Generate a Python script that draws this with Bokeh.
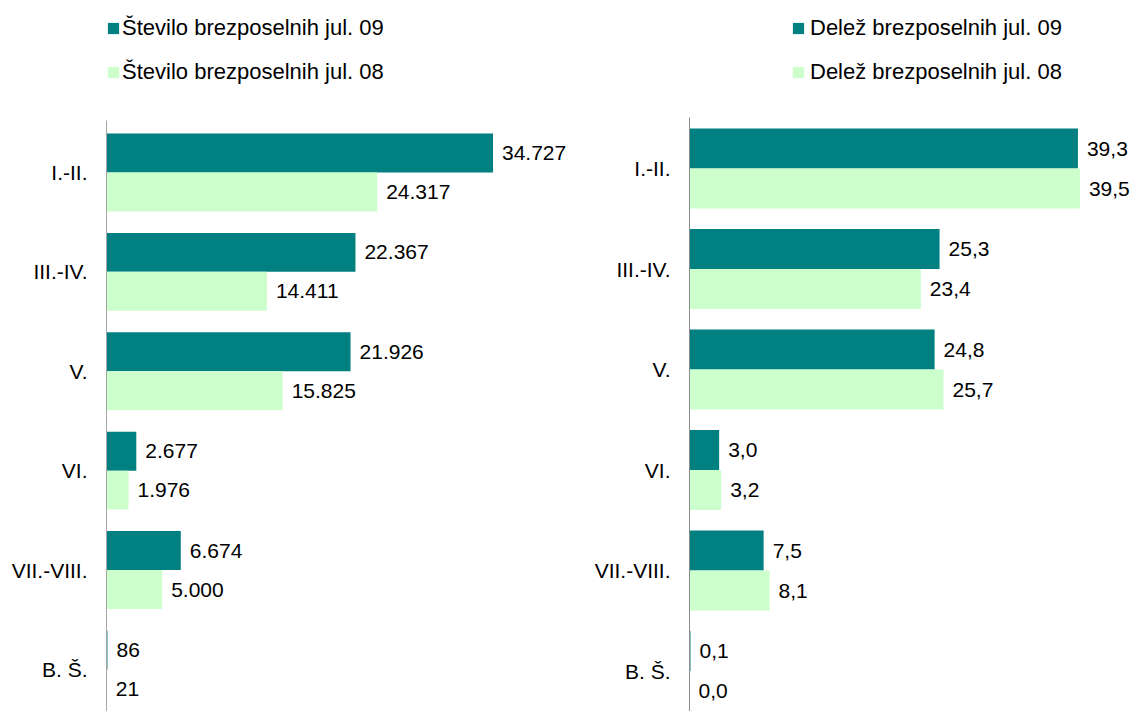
from bokeh.plotting import figure
from bokeh.models import (ColumnDataSource, Range1d, FixedTicker, LabelSet,
                          Legend, LegendItem)
from bokeh.core.properties import value
from bokeh.transform import dodge
from bokeh.layouts import row
from bokeh.embed import file_html
from bokeh.resources import INLINE

categories = ["I.-II.", "III.-IV.", "V.", "VI.", "VII.-VIII.", "B. Š."]
stevilo_jul09 = [34727, 22367, 21926, 2677, 6674, 86]
stevilo_jul08 = [24317, 14411, 15825, 1976, 5000, 21]
delez_jul09 = [39.3, 25.3, 24.8, 3.0, 7.5, 0.1]
delez_jul08 = [39.5, 23.4, 25.7, 3.2, 8.1, 0.0]

labels_left = ["Število brezposelnih jul. 09", "Število brezposelnih jul. 08"]
labels_right = ["Delež brezposelnih jul. 09", "Delež brezposelnih jul. 08"]

DARK = "#008080"
LIGHT = "#CCFFCC"
FONT = "Liberation Sans"
FS = "21px"
FS_LEG = "22px"


def fmt_int(v):
    return f"{v:,}".replace(",", ".")


def fmt_dec(v):
    return f"{v:.1f}".replace(".", ",")


def make_panel(v09, v08, fmt, labels, width, x_end, y_range, border_left,
               bar_h, axis_color, axis_top, legend_loc, leg_standoff):
    idx = list(range(len(categories)))
    src = ColumnDataSource(dict(
        idx=idx, v09=v09, v08=v08,
        t09=[fmt(v) for v in v09], t08=[fmt(v) for v in v08]))
    p = figure(width=width, height=711, output_backend="svg",
               toolbar_location=None, x_range=Range1d(0, x_end),
               y_range=y_range, min_border_left=border_left,
               min_border_top=0, min_border_right=0,
               min_border_bottom=0)
    off = bar_h / 2
    r1 = p.hbar(y=dodge("idx", -off), right="v09", left=0, height=bar_h,
                source=src, fill_color=DARK, line_color=None)
    r2 = p.hbar(y=dodge("idx", off), right="v08", left=0, height=bar_h,
                source=src, fill_color=LIGHT, line_color=None)
    for col, xcol, o in (("t09", "v09", -off), ("t08", "v08", off)):
        p.add_layout(LabelSet(x=xcol, y=dodge("idx", o), text=col, source=src,
                              x_offset=9, text_baseline="middle",
                              text_font=value(FONT), text_font_size=value(FS),
                              text_color="black"))
    p.xaxis.visible = False
    p.xgrid.visible = False
    p.ygrid.visible = False
    p.outline_line_color = None
    ax = p.yaxis[0]
    ax.ticker = FixedTicker(ticks=idx)
    ax.major_label_overrides = {i: c for i, c in enumerate(categories)}
    ax.major_tick_line_color = None
    ax.minor_tick_line_color = None
    ax.major_tick_out = 0
    ax.major_tick_in = 0
    ax.axis_line_color = axis_color
    ax.axis_line_width = 1
    ax.bounds = (axis_top, 7)
    ax.major_label_standoff = 19
    ax.major_label_text_font = FONT
    ax.major_label_text_font_size = FS
    ax.major_label_text_color = "black"
    legend = Legend(items=[LegendItem(label=labels[0], renderers=[r1]),
                           LegendItem(label=labels[1], renderers=[r2])],
                    location=legend_loc, orientation="vertical",
                    glyph_width=14, glyph_height=14,
                    label_standoff=leg_standoff,
                    label_height=24, spacing=18, padding=0, margin=0,
                    border_line_color=None, background_fill_alpha=0,
                    label_text_font=FONT, label_text_font_size=FS_LEG,
                    label_text_color="black", label_text_baseline="middle")
    p.add_layout(legend, "center")
    return p


left = make_panel(stevilo_jul09, stevilo_jul08, fmt_int, labels_left,
                  width=583, x_end=42857,
                  y_range=Range1d(5.423, -1.730), border_left=106,
                  bar_h=0.392, axis_color="#A6A6A6", axis_top=-0.523,
                  legend_loc=(0, 626), leg_standoff=2)
right = make_panel(delez_jul09, delez_jul08, fmt_dec, labels_right,
                   width=549, x_end=44.82,
                   y_range=Range1d(5.403, -1.672), border_left=106,
                   bar_h=0.398, axis_color="#8C8C8C", axis_top=-0.507,
                   legend_loc=(102, 626), leg_standoff=5)

layout = row(left, right)
open("out.html", "w").write(file_html(layout, INLINE))
